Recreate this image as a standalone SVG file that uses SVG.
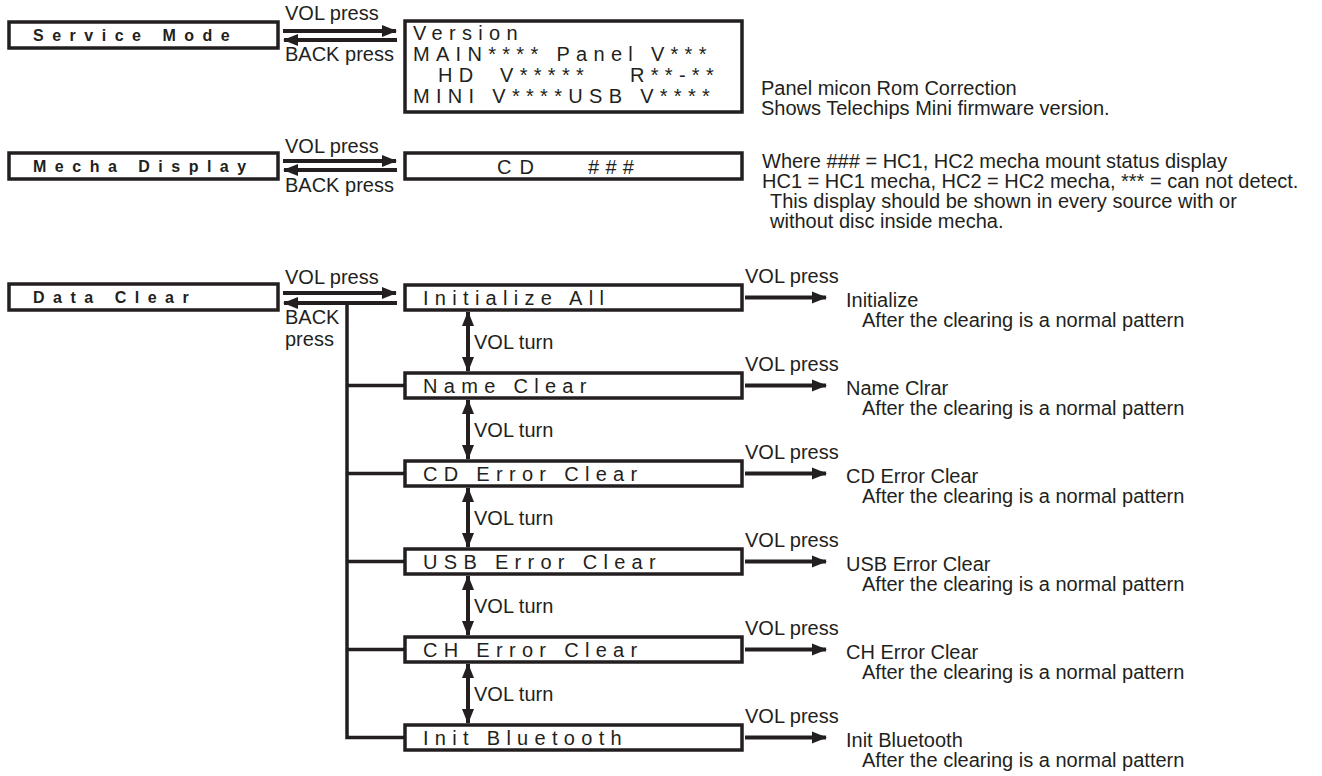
<svg xmlns="http://www.w3.org/2000/svg" width="1322" height="776" viewBox="0 0 1322 776">
<style>
text{font-family:"Liberation Sans",Arial,sans-serif;fill:#231f20}
.box{fill:#fff;stroke:#231f20;stroke-width:3.5}
.hd{font-weight:bold;font-size:16px;letter-spacing:8.5px}
.lcd{font-size:20px;letter-spacing:6.3px}
.lbl{font-size:20px}
.ln{stroke:#231f20;stroke-width:4;fill:none}
.tr{stroke:#231f20;stroke-width:3.5;fill:none}
</style>
<defs>
<marker id="ah" markerUnits="userSpaceOnUse" markerWidth="16" markerHeight="14" refX="14" refY="7" orient="auto-start-reverse" viewBox="0 0 16 14">
<path d="M0,1 L15,7 L0,13 Z" fill="#231f20"/>
</marker>
</defs>
<rect width="1322" height="776" fill="#fff"/>

<g id="connectors">
<line class="ln" x1="283" y1="31" x2="396" y2="31" marker-end="url(#ah)"/>
<line class="ln" x1="397" y1="40" x2="284" y2="40" marker-end="url(#ah)"/>
<line class="ln" x1="283" y1="161" x2="396" y2="161" marker-end="url(#ah)"/>
<line class="ln" x1="397" y1="170" x2="284" y2="170" marker-end="url(#ah)"/>
<line class="ln" x1="283" y1="293" x2="396" y2="293" marker-end="url(#ah)"/>
<line class="ln" x1="397" y1="303" x2="284" y2="303" marker-end="url(#ah)"/>
<polyline class="tr" points="347,303 347,737.5 404,737.5"/>
<line class="tr" x1="347" y1="385.5" x2="404" y2="385.5"/>
<line class="tr" x1="347" y1="473.5" x2="404" y2="473.5"/>
<line class="tr" x1="347" y1="561.5" x2="404" y2="561.5"/>
<line class="tr" x1="347" y1="649.5" x2="404" y2="649.5"/>
<line class="ln" x1="468" y1="312" x2="468" y2="371" marker-start="url(#ah)" marker-end="url(#ah)"/>
<line class="ln" x1="468" y1="400" x2="468" y2="459" marker-start="url(#ah)" marker-end="url(#ah)"/>
<line class="ln" x1="468" y1="488" x2="468" y2="547" marker-start="url(#ah)" marker-end="url(#ah)"/>
<line class="ln" x1="468" y1="576" x2="468" y2="635" marker-start="url(#ah)" marker-end="url(#ah)"/>
<line class="ln" x1="468" y1="664" x2="468" y2="723" marker-start="url(#ah)" marker-end="url(#ah)"/>
<line class="ln" x1="745" y1="297.5" x2="826" y2="297.5" marker-end="url(#ah)"/>
<line class="ln" x1="745" y1="385.5" x2="826" y2="385.5" marker-end="url(#ah)"/>
<line class="ln" x1="745" y1="473.5" x2="826" y2="473.5" marker-end="url(#ah)"/>
<line class="ln" x1="745" y1="561.5" x2="826" y2="561.5" marker-end="url(#ah)"/>
<line class="ln" x1="745" y1="649.5" x2="826" y2="649.5" marker-end="url(#ah)"/>
<line class="ln" x1="745" y1="737.5" x2="826" y2="737.5" marker-end="url(#ah)"/>
</g>

<g id="labels">
<text class="lbl" x="285" y="20">VOL press</text>
<text class="lbl" x="285" y="61">BACK press</text>
<text class="lbl" x="285" y="153">VOL press</text>
<text class="lbl" x="285" y="192">BACK press</text>
<text class="lbl" x="285" y="284">VOL press</text>
<text class="lbl" x="285" y="324">BACK</text>
<text class="lbl" x="285" y="346">press</text>
<text class="lbl" x="474" y="349">VOL turn</text>
<text class="lbl" x="474" y="437">VOL turn</text>
<text class="lbl" x="474" y="525">VOL turn</text>
<text class="lbl" x="474" y="613">VOL turn</text>
<text class="lbl" x="474" y="701">VOL turn</text>
<text class="lbl" x="745" y="283">VOL press</text>
<text class="lbl" x="745" y="371">VOL press</text>
<text class="lbl" x="745" y="459">VOL press</text>
<text class="lbl" x="745" y="547">VOL press</text>
<text class="lbl" x="745" y="635">VOL press</text>
<text class="lbl" x="745" y="723">VOL press</text>
</g>

<g id="service-mode">
<rect class="box" x="9" y="22" width="269" height="26"/>
<text class="hd" x="33" y="41">Service Mode</text>
</g>
<g id="version-display">
<rect class="box" x="405" y="21" width="337" height="91"/>
<text class="lcd" x="413" y="40">Version</text>
<text class="lcd" x="413" y="61">MAIN**** Panel V***</text>
<text class="lcd" y="82"><tspan x="438">HD</tspan><tspan x="500">V*****</tspan><tspan x="630">R**-**</tspan></text>
<text class="lcd" x="413" y="103">MINI V****USB V****</text>
</g>
<g id="version-note">
<text class="lbl" x="761" y="95">Panel micon Rom Correction</text>
<text class="lbl" x="761" y="115">Shows Telechips Mini firmware version.</text>
</g>

<g id="mecha-display">
<rect class="box" x="9" y="153" width="269" height="26"/>
<text class="hd" x="33" y="172">Mecha Display</text>
</g>
<g id="cd-display">
<rect class="box" x="405" y="153" width="337" height="26"/>
<text class="lcd" x="497" y="174" style="letter-spacing:8px">CD</text>
<text class="lcd" x="588" y="174">###</text>
</g>
<g id="mecha-note">
<text class="lbl" x="762" y="168">Where ### = HC1, HC2 mecha mount status display</text>
<text class="lbl" x="762" y="188">HC1 = HC1 mecha, HC2 = HC2 mecha, *** = can not detect.</text>
<text class="lbl" x="770" y="208">This display should be shown in every source with or</text>
<text class="lbl" x="770" y="228">without disc inside mecha.</text>
</g>

<g id="data-clear">
<rect class="box" x="9" y="284" width="269" height="26"/>
<text class="hd" x="33" y="303">Data Clear</text>
</g>

<g id="initialize-all">
<rect class="box" x="405" y="285" width="337" height="25"/>
<text class="lcd" x="423" y="305">Initialize All</text>
</g>
<g id="initialize-note">
<text class="lbl" x="846" y="307">Initialize</text>
<text class="lbl" x="862" y="327">After the clearing is a normal pattern</text>
</g>

<g id="name-clear">
<rect class="box" x="405" y="373" width="337" height="25"/>
<text class="lcd" x="423" y="393">Name Clear</text>
</g>
<g id="name-note">
<text class="lbl" x="846" y="395">Name Clrar</text>
<text class="lbl" x="862" y="415">After the clearing is a normal pattern</text>
</g>

<g id="cd-error-clear">
<rect class="box" x="405" y="461" width="337" height="25"/>
<text class="lcd" x="423" y="481">CD Error Clear</text>
</g>
<g id="cd-error-note">
<text class="lbl" x="846" y="483">CD Error Clear</text>
<text class="lbl" x="862" y="503">After the clearing is a normal pattern</text>
</g>

<g id="usb-error-clear">
<rect class="box" x="405" y="549" width="337" height="25"/>
<text class="lcd" x="423" y="569">USB Error Clear</text>
</g>
<g id="usb-error-note">
<text class="lbl" x="846" y="571">USB Error Clear</text>
<text class="lbl" x="862" y="591">After the clearing is a normal pattern</text>
</g>

<g id="ch-error-clear">
<rect class="box" x="405" y="637" width="337" height="25"/>
<text class="lcd" x="423" y="657">CH Error Clear</text>
</g>
<g id="ch-error-note">
<text class="lbl" x="846" y="659">CH Error Clear</text>
<text class="lbl" x="862" y="679">After the clearing is a normal pattern</text>
</g>

<g id="init-bluetooth">
<rect class="box" x="405" y="725" width="337" height="25"/>
<text class="lcd" x="423" y="745">Init Bluetooth</text>
</g>
<g id="init-bluetooth-note">
<text class="lbl" x="846" y="747">Init Bluetooth</text>
<text class="lbl" x="862" y="767">After the clearing is a normal pattern</text>
</g>
</svg>
